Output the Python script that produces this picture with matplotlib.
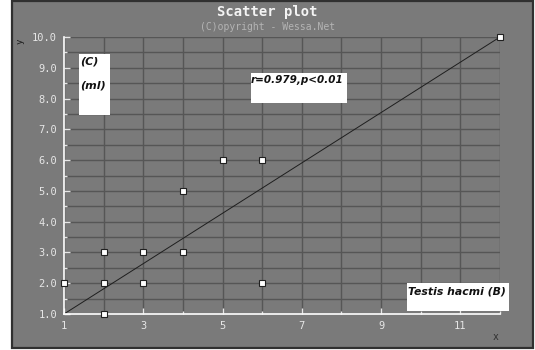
import matplotlib
matplotlib.use("Agg")
import matplotlib.pyplot as plt
from matplotlib.patches import Rectangle
import numpy as np

# Observations
x_vals = [1, 2, 2, 2, 3, 3, 4, 4, 5, 6, 6, 12]
y_vals = [2, 1, 2, 3, 2, 3, 3, 5, 6, 6, 2, 10]

# Fitted line end points
line_x = [1, 12]
line_y = [1, 10]

x_ticks = [1, 3, 5, 7, 9, 11]
y_ticks = [1.0, 2.0, 3.0, 4.0, 5.0, 6.0, 7.0, 8.0, 9.0, 10.0]

title = "Scatter plot"
subtitle = "(C)opyright - Wessa.Net"
stat_text = "r=0.979,p<0.01"
x_caption = "Testis hacmi (B)"
y_caption = ["(C)", "(ml)"]

W, H = 535, 350
BG = "#7a7a7a"
GRID = "#565656"
TICKC = "#e6e6e6"
MONO = "DejaVu Sans Mono"

fig = plt.figure(figsize=(W / 100, H / 100), dpi=100)
fig.patch.set_facecolor("white")


def fx(px):
    return px / W


def fy(py):
    return 1 - py / H


# panel background with dark frame
fig.add_artist(Rectangle((fx(12), fy(348)), fx(533) - fx(12), fy(1) - fy(348),
                         transform=fig.transFigure, facecolor=BG,
                         edgecolor="#303030", linewidth=1.6, zorder=0))

ax = fig.add_axes([fx(64), fy(314), fx(500) - fx(64), fy(37) - fy(314)])
ax.set_facecolor(BG)
ax.patch.set_alpha(0)
ax.set_xlim(1, 12)
ax.set_ylim(1, 10)

for s in ["top", "right"]:
    ax.spines[s].set_visible(False)
for s in ["left", "bottom"]:
    ax.spines[s].set_color("white")
    ax.spines[s].set_linewidth(1.2)

ax.set_xticks(x_ticks)
ax.set_xticklabels([str(v) for v in x_ticks])
ax.set_xticks(np.arange(1, 13, 1), minor=True)
ax.set_yticks(y_ticks)
ax.set_yticklabels([f"{v:.1f}" for v in y_ticks])
ax.set_yticks(np.arange(1, 10.01, 0.5), minor=True)

ax.tick_params(axis="both", which="both", direction="in", color=TICKC,
               labelcolor=TICKC, labelsize=7.5)
ax.tick_params(axis="both", which="major", length=4, width=1)
ax.tick_params(axis="both", which="minor", length=2.5, width=1)
ax.tick_params(axis="x", pad=5)
ax.tick_params(axis="y", pad=5)
for lbl in ax.get_xticklabels() + ax.get_yticklabels():
    lbl.set_family(MONO)

ax.grid(True, which="both", color=GRID, linewidth=1.0, zorder=1)
ax.set_axisbelow(True)

ax.plot(line_x, line_y, color="#1e1e1e", linewidth=0.7, zorder=2)
ax.plot(x_vals, y_vals, linestyle="none", marker="s", markersize=5,
        markerfacecolor="white", markeredgecolor="#202020",
        markeredgewidth=0.8, clip_on=False, zorder=3)

# titles
fig.text(0.5, fy(12), title, ha="center", va="center", family=MONO,
         fontsize=10, fontweight="bold", color="#f4f4f4")
fig.text(0.5, fy(27), subtitle, ha="center", va="center", family=MONO,
         fontsize=7, color="#b4b4b4")

# axis letters
fig.text(fx(20), fy(41), "y", ha="center", va="center", family=MONO,
         fontsize=6.5, color="#1a1a1a", rotation=90)
fig.text(fx(496), fy(337), "x", ha="center", va="center", family=MONO,
         fontsize=7, color="#303030")


def label_box(x0, y0, x1, y1):
    fig.add_artist(Rectangle((fx(x0), fy(y1)), fx(x1) - fx(x0), fy(y0) - fy(y1),
                             transform=fig.transFigure, facecolor="white",
                             edgecolor="none", zorder=5))


label_box(79, 54, 110, 115)
fig.text(fx(80), fy(62), y_caption[0], ha="left", va="center", fontsize=8,
         fontweight="bold", fontstyle="italic", color="#111111", zorder=6)
fig.text(fx(80), fy(85), y_caption[1], ha="left", va="center", fontsize=8,
         fontweight="bold", fontstyle="italic", color="#111111", zorder=6)

label_box(251, 73, 347, 103)
fig.text(fx(251), fy(80), stat_text, ha="left", va="center", fontsize=7.5,
         fontweight="bold", fontstyle="italic", color="#111111", zorder=6)

label_box(407, 283, 509, 311)
fig.text(fx(408), fy(291), x_caption, ha="left", va="center", fontsize=7.8,
         fontweight="bold", fontstyle="italic", color="#111111", zorder=6)

fig.savefig("out.png", dpi=100, facecolor="white")
